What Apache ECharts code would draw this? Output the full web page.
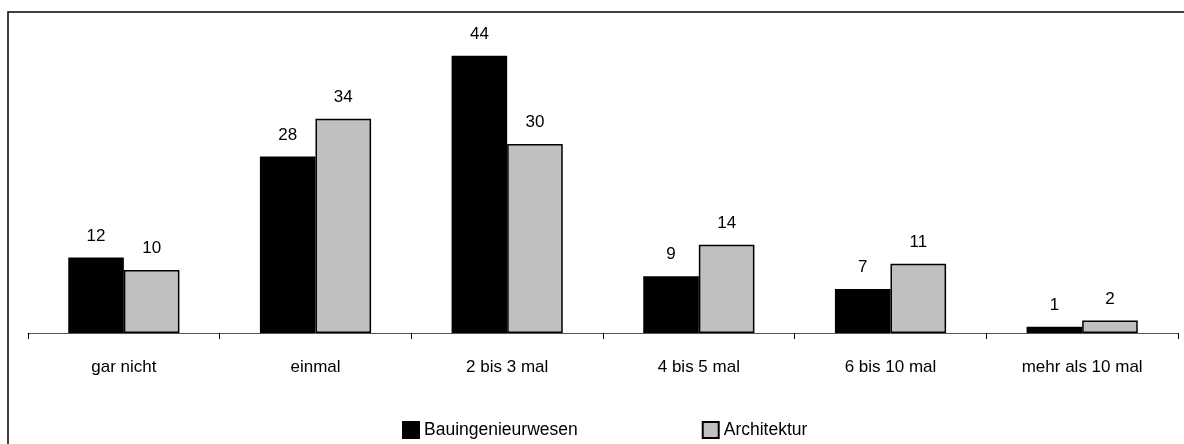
<!DOCTYPE html>
<html><head><meta charset="utf-8">
<script src="https://cdn.jsdelivr.net/npm/echarts@6/dist/echarts.min.js"></script>
<style>html,body{margin:0;padding:0;background:#fff}#c{width:1184px;height:444px}</style>
</head><body><div id="c"></div>
<script>
const categories = ['gar nicht','einmal','2 bis 3 mal','4 bis 5 mal','6 bis 10 mal','mehr als 10 mal'];
const seriesNames = ['Bauingenieurwesen','Architektur'];
const bauValues = [12, 28, 44, 9, 7, 1];
const archValues = [10, 34, 30, 14, 11, 2];

const FONT = '"Liberation Sans Narrow", "Arial Narrow", "Liberation Sans", Arial, sans-serif';
const chart = echarts.init(document.getElementById('c'));
chart.setOption({
  animation: false,
  textStyle: {fontFamily: FONT},
  graphic: [{
    type: 'rect', shape: {x: 8, y: 12, width: 1200, height: 460},
    style: {fill: 'none', stroke: '#000', lineWidth: 1.5}, z: -1
  }],
  legend: {
    data: seriesNames, bottom: 0, left: 397, itemGap: 124,
    itemWidth: 16, itemHeight: 16, icon: 'rect',
    textStyle: {fontFamily: FONT, fontSize: 17.5, color: '#000'}
  },
  grid: {left: 28, right: 6, top: 18, bottom: 111, containLabel: false},
  xAxis: {
    type: 'category', data: categories, boundaryGap: true,
    axisLine: {lineStyle: {color: '#555', width: 1}},
    axisTick: {show: true, inside: false, length: 6, alignWithLabel: false, interval: 0, lineStyle: {color: '#000'}},
    axisLabel: {fontFamily: FONT, fontSize: 17, color: '#000', margin: 26, interval: 0}
  },
  yAxis: {type: 'value', min: 0, max: 50, show: false, splitLine: {show: false}},
  series: [
    {name: seriesNames[0], type: 'bar', data: bauValues, barGap: '0%', barCategoryGap: '42%',
     itemStyle: {color: '#000', borderColor: '#000', borderWidth: 1.5},
     label: {show: true, position: 'top', distance: 13, fontFamily: FONT, fontSize: 17, color: '#000'}},
    {name: seriesNames[1], type: 'bar', data: archValues, barGap: '0%', barCategoryGap: '42%',
     itemStyle: {color: '#c0c0c0', borderColor: '#000', borderWidth: 1.5},
     label: {show: true, position: 'top', distance: 13, fontFamily: FONT, fontSize: 17, color: '#000'}}
  ]
});
</script></body></html>
